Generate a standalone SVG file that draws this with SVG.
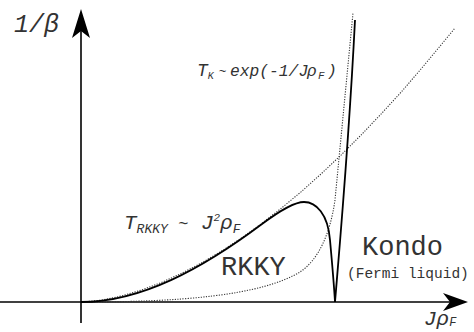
<svg xmlns="http://www.w3.org/2000/svg" width="474" height="332" viewBox="0 0 474 332">
<style>
.ax{stroke:#000;stroke-width:1.6;fill:none}
.solid{stroke:#000;stroke-width:1.8;fill:none;stroke-linejoin:round}
.dot{stroke:#333;stroke-width:1.1;fill:none;stroke-dasharray:1.2 1.4}
.it{font-family:"Liberation Mono","DejaVu Sans Mono",monospace;font-style:italic;fill:#333}
.mono{font-family:"Liberation Mono","DejaVu Sans Mono",monospace;fill:#333}
</style>
<rect width="474" height="332" fill="#fff"/>
<g id="axes">
<line class="ax" x1="0" y1="302" x2="452" y2="302"/>
<path d="M468,302 L443,293 L450,302 L443,311 Z" fill="#000"/>
<line class="ax" x1="81" y1="323" x2="81" y2="25"/>
<path d="M81,9 L72,38 L81,31 L90,38 Z" fill="#000"/>
</g>
<g id="connectors">
<path class="dot" d="M81,302 L101,300.2 L121,296.1 L141,290.2 L161,282.7 L181,273.6 L201,263.2 L221,251.4 L241,238.3 L261,224 L281,208.5 L301,191.9 L321,174 L341,155.1 L361,135.1 L381,114.1 L401,92.3 L421,69 L441,45 L455,28"/>
<path class="dot" d="M81,302 C180,302 260,296 300,272 C318,260 330,235 335,200 L353,13"/>
<path class="solid" d="M81,302 C141,302 202,268.9 262,224 C277,212.8 293,202 304,202 C316,202 328,214 330,240 C332,262 334,285 335,302"/>
<path class="solid" d="M335,302 C341,230 349,140 355,20"/>
</g>
<g id="labels">
<text class="it" x="14" y="32" font-size="25">1/β</text>
<text class="it" x="424" y="325" font-size="21">Jρ<tspan font-size="12" dy="1">F</tspan></text>
<text class="it" x="197" y="76" font-size="18">T<tspan font-size="10" dy="3">K</tspan></text>
<text class="it" x="218.5" y="75" font-size="13">~</text>
<text class="it" x="230" y="76" font-size="16.3">exp(-1/J<tspan x="307">ρ</tspan><tspan x="318" dy="3" font-size="11">F</tspan><tspan x="327" dy="-3">)</tspan></text>
<text class="it" x="124" y="229" font-size="21">T<tspan font-size="13" dy="4">RKKY</tspan><tspan x="178" dy="-4" font-size="17">~</tspan><tspan x="201" font-size="21">J</tspan><tspan font-size="11" dy="-8">2</tspan><tspan font-size="21" dy="8">ρ</tspan><tspan font-size="13" dy="4">F</tspan></text>
<text class="mono" x="221" y="275" font-size="27">RKKY</text>
<text class="mono" x="362" y="255" font-size="27">Kondo</text>
<text class="mono" x="347" y="278" font-size="14.5">(Fermi liquid)</text>
</g>
</svg>
